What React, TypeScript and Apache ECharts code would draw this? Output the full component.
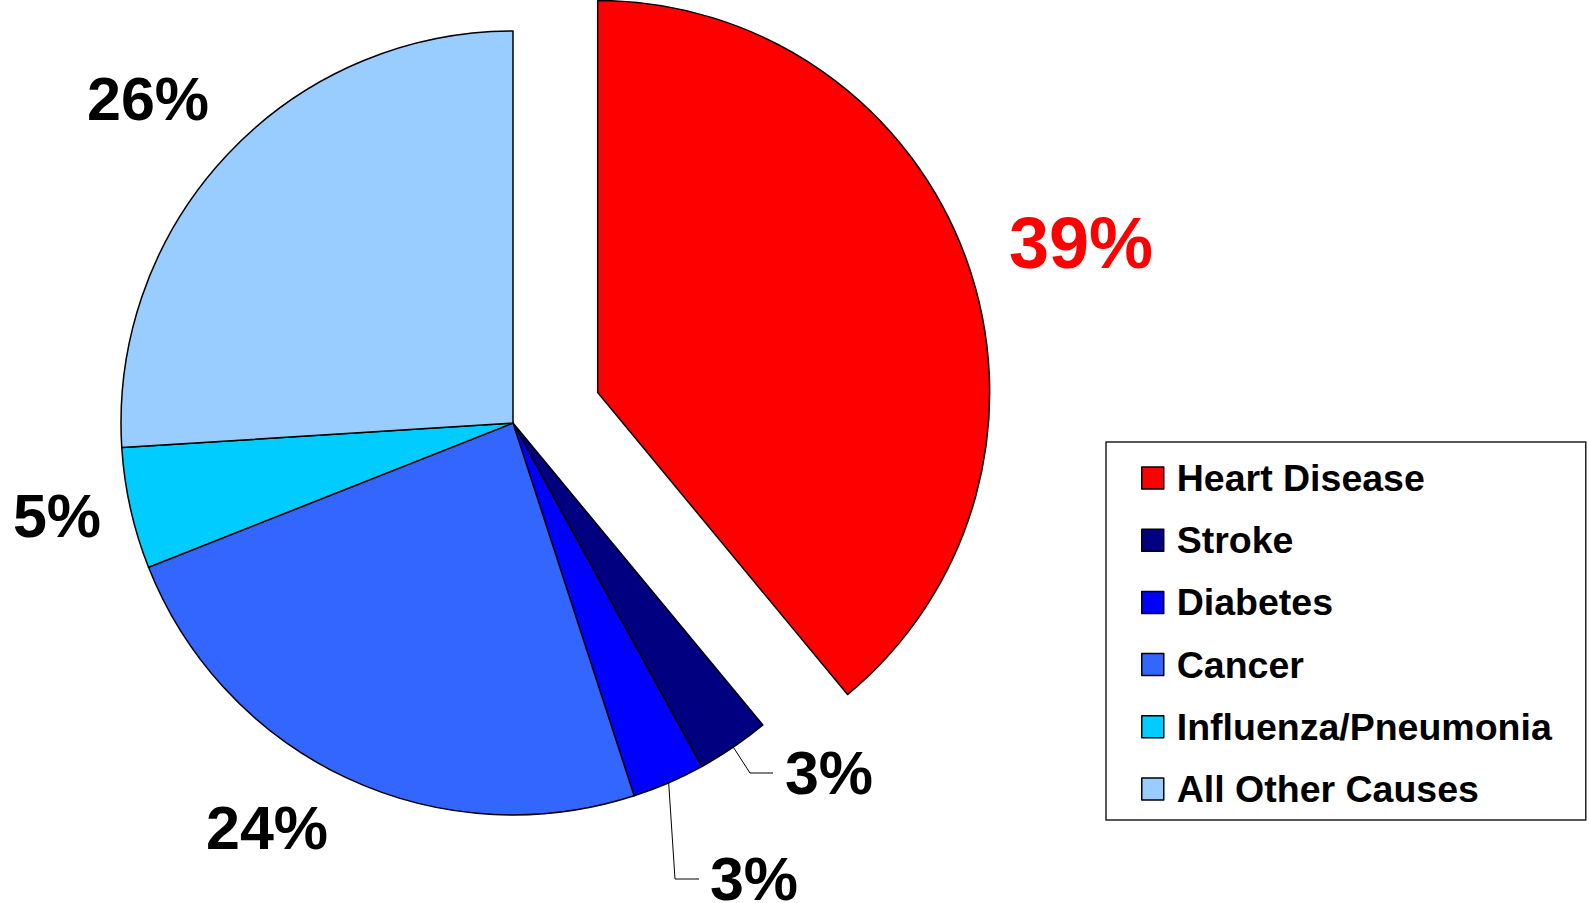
import React, { useEffect, useRef } from "react";
import * as echarts from "echarts";

// ---- data ----
const categories = [
  "Heart Disease",
  "Stroke",
  "Diabetes",
  "Cancer",
  "Influenza/Pneumonia",
  "All Other Causes",
];
const values = [39, 3, 3, 24, 5, 26];
const colors = ["#FF0000", "#000080", "#0000FF", "#3366FF", "#00CCFF", "#99CCFF"];
const explodedIndex = 0; // Heart Disease is pulled out of the pie

// ---- styling / layout constants ----
const FONT = "'Liberation Sans', Arial, Helvetica, sans-serif";
const CENTER: [number, number] = [513, 423];
const RADIUS = 392;
const EXPLODE = 90;
// label anchor positions (px) per slice
const LABEL_POS: [number, number][] = [
  [1081, 243],
  [829, 773],
  [754, 879],
  [267, 828],
  [57, 516],
  [148, 99],
];
// label line bend + end points for the two small slices (index -> points)
const LINE_PTS: Record<number, [number, number][]> = {
  1: [
    [750, 773],
    [773, 773],
  ],
  2: [
    [675, 879],
    [699, 879],
  ],
};

export default function App() {
  const ref = useRef<HTMLDivElement>(null);

  useEffect(() => {
    if (!ref.current) return;
    const chart = echarts.init(ref.current, undefined, { renderer: "svg" });
    const total = values.reduce((a, b) => a + b, 0);

    const midAngle = (i: number) => {
      let before = 0;
      for (let k = 0; k < i; k++) before += values[k];
      return ((before + values[i] / 2) / total) * Math.PI * 2;
    };
    const edgePoint = (i: number): [number, number] => {
      const a = midAngle(i);
      return [CENTER[0] + RADIUS * Math.sin(a), CENTER[1] - RADIUS * Math.cos(a)];
    };
    const exA = midAngle(explodedIndex);
    const explodedCenter: [number, number] = [
      CENTER[0] + EXPLODE * Math.sin(exA),
      CENTER[1] - EXPLODE * Math.cos(exA),
    ];

    const hidden = {
      itemStyle: { color: "rgba(0,0,0,0)", borderWidth: 0 },
      label: { show: false },
      labelLine: { show: false },
    };

    const labelCommon = {
      show: true,
      position: "outside",
      fontFamily: FONT,
      fontWeight: "bold",
      fontSize: 61,
      color: "#000",
      formatter: (p: any) => Math.round(p.percent) + "%",
    };

    const labelLayout = (params: any) => {
      const i = params.dataIndex;
      const [x, y] = LABEL_POS[i];
      const res: any = { x, y, align: "center", verticalAlign: "middle" };
      if (LINE_PTS[i]) {
        res.labelLinePoints = [edgePoint(i), ...LINE_PTS[i]];
      }
      return res;
    };

    const pieBase = {
      type: "pie",
      radius: RADIUS,
      startAngle: 90,
      clockwise: true,
      avoidLabelOverlap: false,
      silent: true,
      emphasis: { disabled: true },
      itemStyle: { borderColor: "#000", borderWidth: 1.5 },
      label: labelCommon,
      labelLine: { show: false, lineStyle: { color: "#000", width: 1 } },
      labelLayout,
    };

    chart.setOption({
      animation: false,
      backgroundColor: "#ffffff",
      legend: {
        orient: "vertical",
        left: 1106,
        top: 442,
        padding: [17, 34, 12, 35],
        borderColor: "#222",
        borderWidth: 1.5,
        itemWidth: 22,
        itemHeight: 22,
        itemGap: 24.2,
        icon: "rect",
        selectedMode: false,
        textStyle: {
          fontFamily: FONT,
          fontSize: 37.5,
          fontWeight: "bold",
          color: "#000",
          lineHeight: 36,
          padding: [0, 0, 0, 8],
        },
        data: categories.map((name, i) => ({
          name,
          itemStyle: { color: colors[i], borderColor: "#000", borderWidth: 1.5 },
        })),
      },
      series: [
        {
          ...pieBase,
          name: "main",
          center: CENTER,
          data: categories.map((name, i) =>
            i === explodedIndex
              ? { name, value: values[i], ...hidden }
              : {
                  name,
                  value: values[i],
                  itemStyle: { color: colors[i] },
                  labelLine: LINE_PTS[i]
                    ? { show: true, length: 20, length2: 20, smooth: false }
                    : { show: false },
                }
          ),
        },
        {
          ...pieBase,
          name: "exploded",
          center: explodedCenter,
          data: categories.map((name, i) =>
            i === explodedIndex
              ? {
                  name,
                  value: values[i],
                  itemStyle: { color: colors[i] },
                  label: { color: colors[i], fontSize: 72 },
                  labelLine: { show: false },
                }
              : { name, value: values[i], ...hidden }
          ),
        },
      ],
    });

    return () => chart.dispose();
  }, []);

  return (
    <div
      ref={ref}
      style={{ position: "fixed", left: 0, top: 0, width: 1589, height: 903 }}
    />
  );
}
